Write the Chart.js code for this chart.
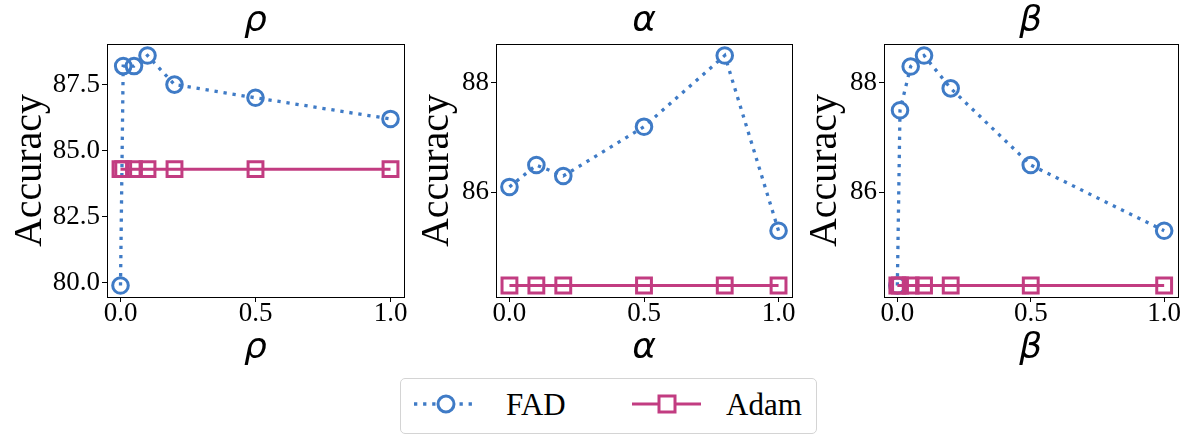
<!DOCTYPE html>
<html>
<head>
<meta charset="utf-8">
<script src="https://cdn.jsdelivr.net/npm/chart.js@4.4.1/dist/chart.umd.min.js"></script>
<style>
  body { margin: 0; background: #fff; }
  #wrap { position: relative; width: 1191px; height: 436px; overflow: hidden; }
  canvas { position: absolute; top: 0; }
  #legend {
    position: absolute; left: 400px; top: 378px; width: 415px; height: 54px;
    border: 1px solid #d4d4d4; border-radius: 5px; background: #fff;
  }
  #legend svg { position: absolute; left: 0; top: 0; }
  #legend span {
    position: absolute; top: 10px; font-family: 'Liberation Serif', serif;
    font-size: 31px; line-height: 31px; color: #000;
  }
</style>
</head>
<body>
<div id="wrap">
  <canvas id="rhoChart" style="left:0px" width="430" height="380"></canvas>
  <canvas id="alphaChart" style="left:407px" width="411" height="380"></canvas>
  <canvas id="betaChart" style="left:795px" width="396" height="380"></canvas>
  <div id="legend">
    <svg width="415" height="54">
      <line x1="13" y1="25" x2="75" y2="25" stroke="#3f7bc6" stroke-width="3.3" stroke-dasharray="3.3 5.8"></line>
      <circle cx="45" cy="25" r="8" fill="#fff" stroke="#3f7bc6" stroke-width="3"></circle>
      <line x1="231" y1="25" x2="300" y2="25" stroke="#c23c81" stroke-width="3"></line>
      <rect x="258" y="17" width="16" height="16" fill="#fff" stroke="#c23c81" stroke-width="3"></rect>
    </svg>
    <span style="left:105px">FAD</span>
    <span style="left:325px">Adam</span>
  </div>
</div>
<script>
// data
const rhoX = [0, 0.01, 0.05, 0.1, 0.2, 0.5, 1.0];
const rhoFad = [79.9, 88.2, 88.2, 88.6, 87.5, 87.0, 86.2];
const rhoAdam = [84.3, 84.3, 84.3, 84.3, 84.3, 84.3, 84.3];

const alphaX = [0, 0.1, 0.2, 0.5, 0.8, 1.0];
const alphaFad = [86.1, 86.5, 86.3, 87.2, 88.5, 85.3];
const alphaAdam = [84.3, 84.3, 84.3, 84.3, 84.3, 84.3];

const betaX = [0, 0.01, 0.05, 0.1, 0.2, 0.5, 1.0];
const betaFad = [84.3, 87.5, 88.3, 88.5, 87.9, 86.5, 85.3];
const betaAdam = [84.3, 84.3, 84.3, 84.3, 84.3, 84.3, 84.3];

const xTicks = [0, 0.5, 1.0];
const rhoYTicks = [80.0, 82.5, 85.0, 87.5];
const alphaYTicks = [86, 88];
const betaYTicks = [86, 88];

const FAD_COLOR = '#3f7bc6';
const ADAM_COLOR = '#c23c81';
const serif = 'Liberation Serif';
const greekFont = { family: 'DejaVu Sans', style: 'italic', weight: 'normal', size: 36, lineHeight: 1 };

Chart.defaults.color = '#000';
Chart.defaults.animation = false;

// box around the plot area, like matplotlib spines
const framePlugin = {
  id: 'frame',
  afterDatasetsDraw(chart) {
    const { ctx, chartArea } = chart;
    ctx.save();
    ctx.strokeStyle = '#000';
    ctx.lineWidth = 1;
    ctx.strokeRect(
      Math.round(chartArea.left) + 0.5,
      Math.round(chartArea.top) + 0.5,
      Math.round(chartArea.right - chartArea.left),
      Math.round(chartArea.bottom - chartArea.top),
    );
    ctx.restore();
  },
};

function pad(values) {
  const lo = Math.min(...values);
  const hi = Math.max(...values);
  const m = (hi - lo) * 0.05;
  return [lo - m, hi + m];
}

function makePanel(id, greek, xs, fad, adam, yTicks, digits, yAxisWidth, padRight) {
  const [yMin, yMax] = pad(fad.concat(adam));
  const [xMin, xMax] = pad(xs);
  const ctx = document.getElementById(id);
  return new Chart(ctx, {
    type: 'line',
    data: {
      datasets: [
        {
          label: 'Adam',
          data: xs.map((x, i) => ({ x: x, y: adam[i] })),
          borderColor: ADAM_COLOR,
          backgroundColor: 'rgba(0,0,0,0)',
          borderWidth: 3,
          pointStyle: 'rect',
          pointRadius: 10.5,
          pointBorderWidth: 3,
          pointBackgroundColor: 'rgba(0,0,0,0)',
          pointBorderColor: ADAM_COLOR,
          tension: 0,
          order: 0,
          clip: false,
        },
        {
          label: 'FAD',
          data: xs.map((x, i) => ({ x: x, y: fad[i] })),
          borderColor: FAD_COLOR,
          backgroundColor: 'rgba(0,0,0,0)',
          borderWidth: 3.3,
          borderDash: [3.3, 5.8],
          borderCapStyle: 'butt',
          pointStyle: 'circle',
          pointRadius: 7.8,
          pointBorderWidth: 3,
          pointBackgroundColor: 'rgba(0,0,0,0)',
          pointBorderColor: FAD_COLOR,
          tension: 0,
          order: 1,
          clip: false,
        },
      ],
    },
    options: {
      responsive: false,
      layout: { padding: { left: 0, right: padRight, top: 0, bottom: 0 } },
      plugins: {
        legend: { display: false },
        tooltip: { enabled: false },
        title: {
          display: true,
          text: greek,
          fullSize: false,
          font: greekFont,
          color: '#000',
          padding: { top: 4, bottom: 4 },
        },
      },
      scales: {
        x: {
          type: 'linear',
          min: xMin,
          max: xMax,
          afterBuildTicks: (scale) => {
            scale.ticks = xTicks.map((v) => ({ value: v }));
          },
          afterFit: (scale) => {
            scale.height = 83;
          },
          ticks: {
            callback: (v) => Number(v).toFixed(1),
            font: { family: serif, size: 27, lineHeight: 0.9 },
            color: '#000',
            padding: 0,
            maxRotation: 0,
            autoSkip: false,
          },
          grid: { display: true, drawOnChartArea: false, tickLength: 5, color: '#000' },
          border: { display: true, color: '#000', width: 1 },
          title: {
            display: true,
            text: greek,
            font: greekFont,
            color: '#000',
            padding: { top: 0, bottom: 13 },
          },
        },
        y: {
          type: 'linear',
          min: yMin,
          max: yMax,
          afterBuildTicks: (scale) => {
            scale.ticks = yTicks.map((v) => ({ value: v }));
          },
          afterFit: (scale) => {
            scale.width = yAxisWidth;
          },
          ticks: {
            callback: (v) => Number(v).toFixed(digits),
            font: { family: serif, size: 27, lineHeight: 1 },
            color: '#000',
            padding: 2,
            autoSkip: false,
          },
          grid: { display: true, drawOnChartArea: false, tickLength: 5, color: '#000' },
          border: { display: true, color: '#000', width: 1 },
          title: {
            display: true,
            text: 'Accuracy',
            font: { family: serif, size: 40, lineHeight: 1 },
            color: '#000',
            padding: { top: 10, bottom: 0 },
          },
        },
      },
    },
    plugins: [framePlugin],
  });
}

makePanel('rhoChart', 'ρ', rhoX, rhoFad, rhoAdam, rhoYTicks, 1, 107, 26);
makePanel('alphaChart', 'α', alphaX, alphaFad, alphaAdam, alphaYTicks, 0, 89, 26);
makePanel('betaChart', 'β', betaX, betaFad, betaAdam, betaYTicks, 0, 89, 10);
</script>
</body>
</html>
